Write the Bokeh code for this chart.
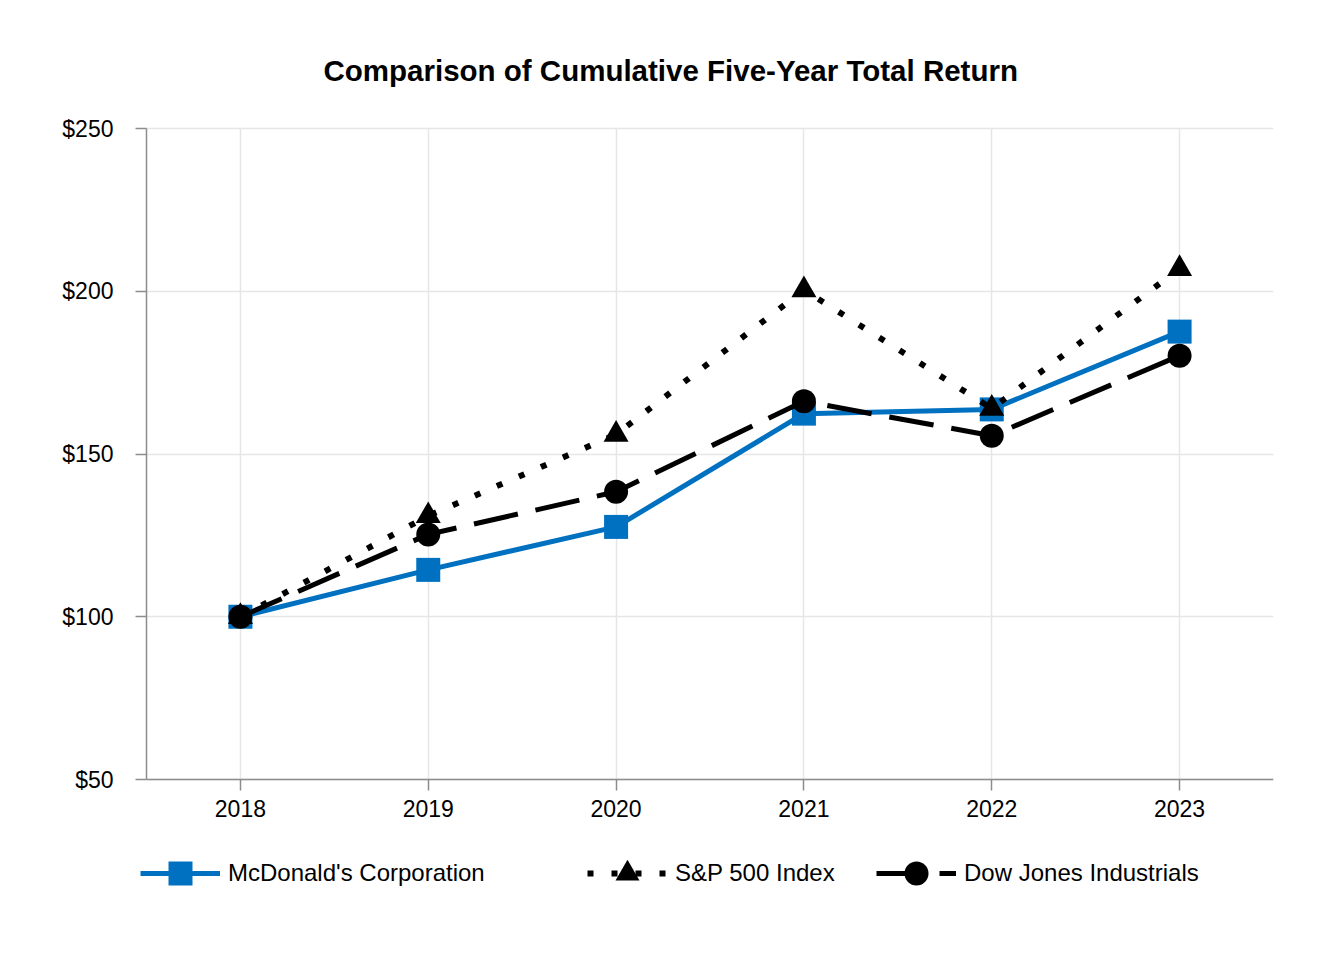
from bokeh.plotting import figure
from bokeh.models import Legend, LegendItem, FixedTicker, NumeralTickFormatter, Range1d
from bokeh.embed import file_html
from bokeh.resources import INLINE

years = [2018, 2019, 2020, 2021, 2022, 2023]
mcd = [100, 114.4, 127.6, 162.4, 163.7, 187.6]
sp500 = [100, 131.0, 156.0, 200.4, 164.0, 206.9]
dow = [100, 125.3, 138.4, 166.2, 155.6, 180.2]
series_names = ["McDonald's Corporation", "S&P 500 Index", "Dow Jones Industrials"]
y_ticks = [50, 100, 150, 200, 250]

FONT = "Liberation Sans"
BLUE = "#0070C0"

# layout (pixels)
W, H = 1320, 950
AX_LEFT, AX_RIGHT, AX_TOP, AX_BOTTOM = 146, 1273, 128, 779   # axes box
FR_LEFT, FR_TOP, FR_BOTTOM = 40, 100, 905                     # drawing frame (room for labels/legend)
X0, X1 = 2017.5, 2023.5
Y0, Y1 = 50, 250
px_x = (AX_RIGHT - AX_LEFT) / (X1 - X0)
px_y = (AX_BOTTOM - AX_TOP) / (Y1 - Y0)

p = figure(width=W, height=H, output_backend="svg", toolbar_location=None,
           x_range=Range1d(X0 - (AX_LEFT - FR_LEFT) / px_x, X1),
           y_range=Range1d(Y0 - (FR_BOTTOM - AX_BOTTOM) / px_y, Y1 + (AX_TOP - FR_TOP) / px_y),
           min_border_left=FR_LEFT, min_border_right=W - AX_RIGHT,
           min_border_top=FR_TOP, min_border_bottom=H - FR_BOTTOM)
p.outline_line_color = None
p.background_fill_color = "white"
p.border_fill_color = "white"

p.title.text = "Comparison of Cumulative Five-Year Total Return"
p.title.text_font = FONT
p.title.text_font_size = "29.5px"
p.title.text_font_style = "bold"
p.title.text_color = "black"
p.title.align = "left"
p.title.offset = 323 - FR_LEFT
p.title.standoff = 28

for ax in (p.xaxis[0], p.yaxis[0]):
    ax.axis_line_color = "#8c8c8c"
    ax.axis_line_width = 1.5
    ax.major_tick_line_color = "#8c8c8c"
    ax.major_tick_line_width = 1.5
    ax.major_tick_out = 11
    ax.major_tick_in = 0
    ax.minor_tick_line_color = None
    ax.major_label_text_font = FONT
    ax.major_label_text_font_size = "23px"
    ax.major_label_text_color = "black"

p.xaxis.ticker = FixedTicker(ticks=years)
p.xaxis.major_label_overrides = {y: str(y) for y in years}
p.xaxis.major_label_standoff = 9
p.xaxis.fixed_location = Y0
p.xaxis.bounds = (X0, X1)
p.yaxis.ticker = FixedTicker(ticks=y_ticks)
p.yaxis.formatter = NumeralTickFormatter(format="$0")
p.yaxis.major_label_standoff = 22
p.yaxis.fixed_location = X0
p.yaxis.bounds = (Y0, Y1)

p.xgrid.ticker = FixedTicker(ticks=years)
p.ygrid.ticker = FixedTicker(ticks=y_ticks)
for g in (p.xgrid[0], p.ygrid[0]):
    g.grid_line_color = "#e6e6e6"
    g.grid_line_width = 1.5
try:
    p.xgrid[0].cross_bounds = (Y0, Y1)
    p.ygrid[0].cross_bounds = (X0, X1)
except AttributeError:
    pass

l1 = p.line(years, mcd, line_color=BLUE, line_width=5)
m1 = p.scatter(years, mcd, marker="square", size=24, fill_color=BLUE, line_color=None)
l2 = p.line(years, sp500, line_color="black", line_width=6, line_dash="6 18")
m2 = p.scatter(years, sp500, marker="triangle", size=25, fill_color="black", line_color=None)
l3 = p.line(years, dow, line_color="black", line_width=5, line_dash="45 18")
m3 = p.scatter(years, dow, marker="circle", size=24, fill_color="black", line_color=None)

legend_x = [140, 587, 876]
legend_bottom = 903
for name, rs, lx in zip(series_names, [[l1, m1], [l2, m2], [l3, m3]], legend_x):
    lg = Legend(items=[LegendItem(label=name, renderers=rs)],
                location=(lx - FR_LEFT, FR_BOTTOM - legend_bottom),
                orientation="horizontal", glyph_width=80, glyph_height=60,
                label_standoff=8, padding=0, margin=0, spacing=0,
                border_line_color=None, background_fill_alpha=0,
                label_text_font=FONT, label_text_font_size="24px", label_text_color="black")
    p.add_layout(lg, "center")

open("out.html", "w").write(file_html(p, INLINE))
